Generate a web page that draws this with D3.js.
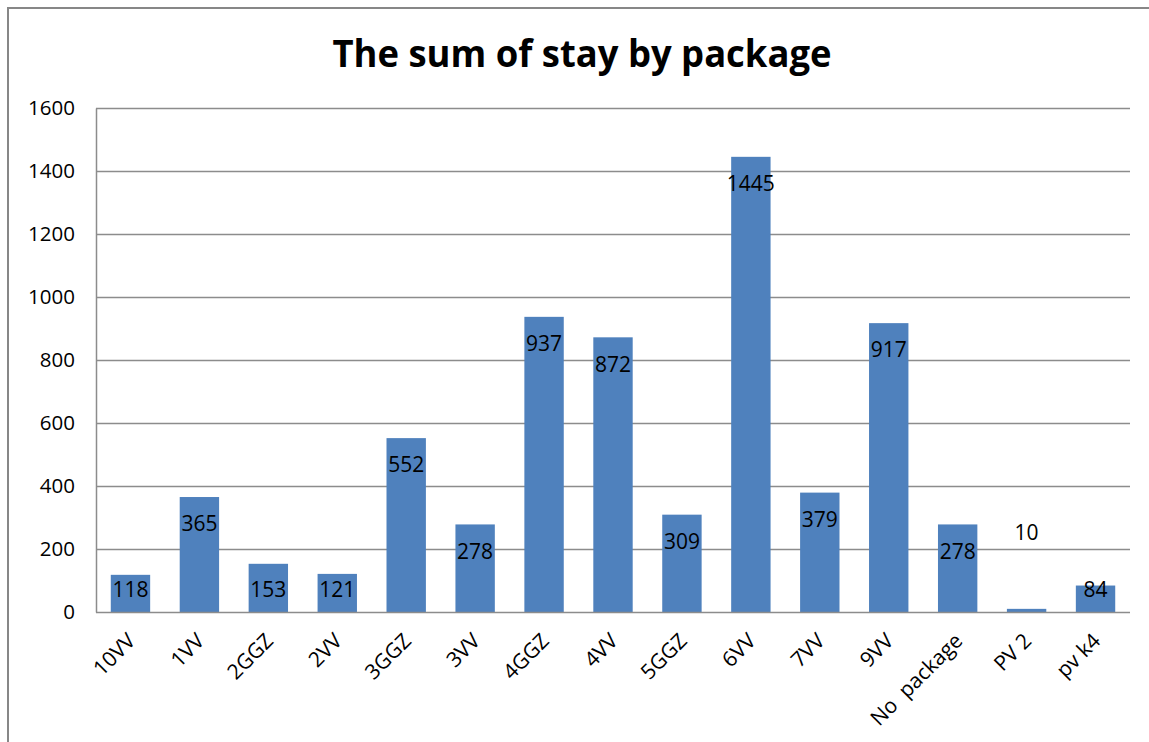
<!DOCTYPE html>
<html>
<head>
<meta charset="utf-8">
<script src="https://cdn.jsdelivr.net/npm/d3@7"></script>
<style>
  html, body { margin: 0; padding: 0; background: #fff; }
  svg { display: block; }
  text { font-family: "Open Sans", "Lato", sans-serif; fill: #000; }
</style>
</head>
<body>
<svg id="chart" width="1149" height="742"></svg>
<script>
const categories = ["10VV", "1VV", "2GGZ", "2VV", "3GGZ", "3VV", "4GGZ", "4VV", "5GGZ", "6VV", "7VV", "9VV", "No  package", "PV 2", "pv k4"];
const values = [118, 365, 153, 121, 552, 278, 937, 872, 309, 1445, 379, 917, 278, 10, 84];
const yTicks = [0, 200, 400, 600, 800, 1000, 1200, 1400, 1600];
const title = "The sum of stay by package";

const svg = d3.select("#chart");
const m = { left: 96, top: 108, right: 1130, bottom: 612 };

// outer frame
svg.append("rect")
  .attr("x", 8).attr("y", 8).attr("width", 1170).attr("height", 780)
  .attr("fill", "#fff").attr("stroke", "#878787").attr("stroke-width", 2);

const x = d3.scaleBand().domain(categories).range([m.left, m.right]).paddingInner(0.4286).paddingOuter(0.2143);
const y = d3.scaleLinear().domain([0, 1600]).range([m.bottom, m.top]);

// gridlines
svg.append("g").selectAll("line").data(yTicks.filter(d => d > 0)).join("line")
  .attr("x1", m.left).attr("x2", m.right)
  .attr("y1", d => Math.round(y(d)) + 0.5).attr("y2", d => Math.round(y(d)) + 0.5)
  .attr("stroke", "#8c8c8c").attr("stroke-width", 1.3);

// y axis
const yAxis = svg.append("g").attr("transform", `translate(${m.left},0)`)
  .call(d3.axisLeft(y).tickValues(yTicks).tickSize(0).tickPadding(21).tickFormat(d3.format("d")));
yAxis.select(".domain").attr("stroke", "#8c8c8c").attr("stroke-width", 1.5);
yAxis.selectAll("text").attr("font-size", 20.5).attr("font-family", "Open Sans").attr("fill", "#000");

// bars
svg.append("g").selectAll("rect").data(values).join("rect")
  .attr("x", (d, i) => x(categories[i]))
  .attr("width", x.bandwidth())
  .attr("y", d => y(d))
  .attr("height", d => y(0) - y(d))
  .attr("fill", "#4f81bd");

// x axis line
svg.append("line")
  .attr("x1", m.left).attr("x2", m.right)
  .attr("y1", m.bottom + 0.5).attr("y2", m.bottom + 0.5)
  .attr("stroke", "#8c8c8c").attr("stroke-width", 1.5);

// category labels
svg.append("g").selectAll("text").data(categories).join("text")
  .attr("transform", d => `translate(${x(d) + x.bandwidth() / 2 + 1},${m.bottom + 25}) rotate(-45)`)
  .attr("text-anchor", "end")
  .attr("dy", "0.35em")
  .attr("font-size", 21)
  .style("white-space", "pre")
  .text(d => d);

// value labels
svg.append("g").selectAll("text").data(values).join("text")
  .attr("x", (d, i) => x(categories[i]) + x.bandwidth() / 2)
  .attr("y", d => d < 50 ? y(0) - 79 : Math.min(y(d) + 27, y(0) - 22))
  .attr("dy", "0.35em")
  .attr("text-anchor", "middle")
  .attr("font-size", 21)
  .text(d => d);

// title
const t = svg.append("text")
  .attr("x", 582).attr("y", 67)
  .attr("text-anchor", "middle")
  .attr("font-size", 37)
  .attr("font-weight", "bold")
  .text(title);
const len = t.node().getComputedTextLength();
if (Math.abs(len - 499) > 5) t.attr("textLength", 499).attr("lengthAdjust", "spacingAndGlyphs");
</script>
</body>
</html>
